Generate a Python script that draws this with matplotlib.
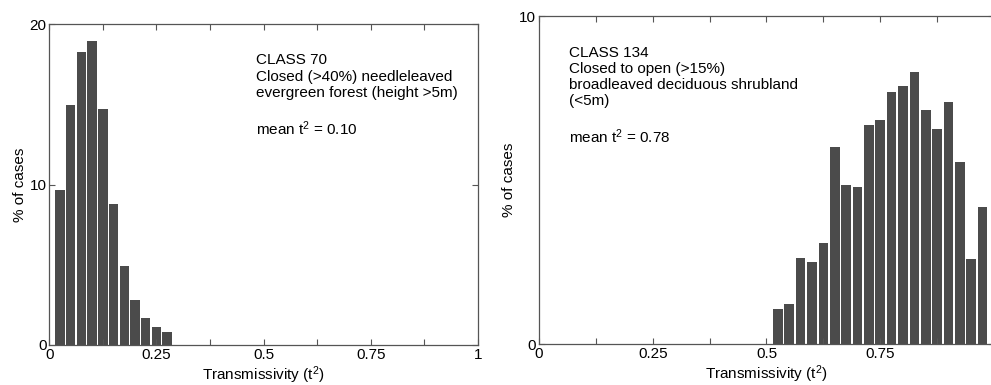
import numpy as np
import matplotlib
matplotlib.use("Agg")
import matplotlib.pyplot as plt
from matplotlib.ticker import MultipleLocator, FixedLocator

plt.rcParams['font.family'] = ['Liberation Sans', 'DejaVu Sans']
plt.rcParams['mathtext.fontset'] = 'custom'
plt.rcParams['mathtext.rm'] = 'Liberation Sans'
plt.rcParams['mathtext.it'] = 'Liberation Sans'

# histogram bins (bin centres, width 0.025) and % of cases
bin_w = 0.025
c70_centres = [0.025, 0.05, 0.075, 0.1, 0.125, 0.15, 0.175, 0.2, 0.225, 0.25, 0.275]
c70_pct = [9.7, 15.0, 18.3, 19.0, 14.7, 8.8, 4.9, 2.8, 1.7, 1.15, 0.8]

c134_centres = [0.525, 0.55, 0.575, 0.6, 0.625, 0.65, 0.675, 0.7, 0.725, 0.75,
                0.775, 0.8, 0.825, 0.85, 0.875, 0.9, 0.925, 0.95, 0.975]
c134_pct = [1.07, 1.24, 2.64, 2.52, 3.08, 6.0, 4.84, 4.79, 6.67, 6.82,
            7.69, 7.88, 8.30, 7.13, 6.55, 7.38, 5.54, 2.59, 4.17]

xticks = [0, 0.25, 0.5, 0.75, 1]
xtick_labels = ['0', '0.25', '0.5', '0.75', '1']

text70 = ("CLASS 70\nClosed (>40%) needleleaved\nevergreen forest (height >5m)\n\n"
          "mean t$^2$ = 0.10")
text134 = ("CLASS 134\nClosed to open (>15%)\nbroadleaved deciduous shrubland\n(<5m)\n\n"
           "mean t$^2$ = 0.78")

bar_col = '#4b4b4b'
spine_col = '#555555'

fig = plt.figure(figsize=(9.91, 3.85), dpi=100)
ax1 = fig.add_axes([0.0497, 0.1039, 0.4326, 0.8325])
ax2 = fig.add_axes([0.5439, 0.1057, 0.4591, 0.8527])


def style(ax, ymax, yticks, labels):
    ax.set_xlim(0, 1)
    ax.set_ylim(0, ymax)
    ax.xaxis.set_major_locator(FixedLocator(xticks))
    ax.set_xticklabels(labels)
    ax.xaxis.set_minor_locator(MultipleLocator(0.125))
    ax.set_yticks(yticks)
    ax.tick_params(which='both', direction='in', length=4, width=0.8,
                   color=spine_col, top=True, right=True, labelsize=11, pad=2)
    for s in ax.spines.values():
        s.set_color(spine_col)
        s.set_linewidth(0.9)
    ax.set_xlabel('Transmissivity (t$^2$)', fontsize=11, labelpad=2)
    ax.set_ylabel('% of cases', fontsize=11, labelpad=2)


ax1.bar(c70_centres, c70_pct, width=bin_w * 0.88, color=bar_col, linewidth=0)
style(ax1, 20, [0, 10, 20], xtick_labels)
ax1.text(0.482, 0.91, text70, transform=ax1.transAxes, va='top', ha='left',
         fontsize=11, linespacing=1.2)

ax2.bar(c134_centres, c134_pct, width=bin_w * 0.85, color=bar_col, linewidth=0)
# the x=1 label falls past the right edge of the figure
style(ax2, 10, [0, 10], xtick_labels[:-1] + [''])
ax2.text(0.066, 0.91, text134, transform=ax2.transAxes, va='top', ha='left',
         fontsize=11, linespacing=1.2)

fig.savefig('out.png', dpi=100)
